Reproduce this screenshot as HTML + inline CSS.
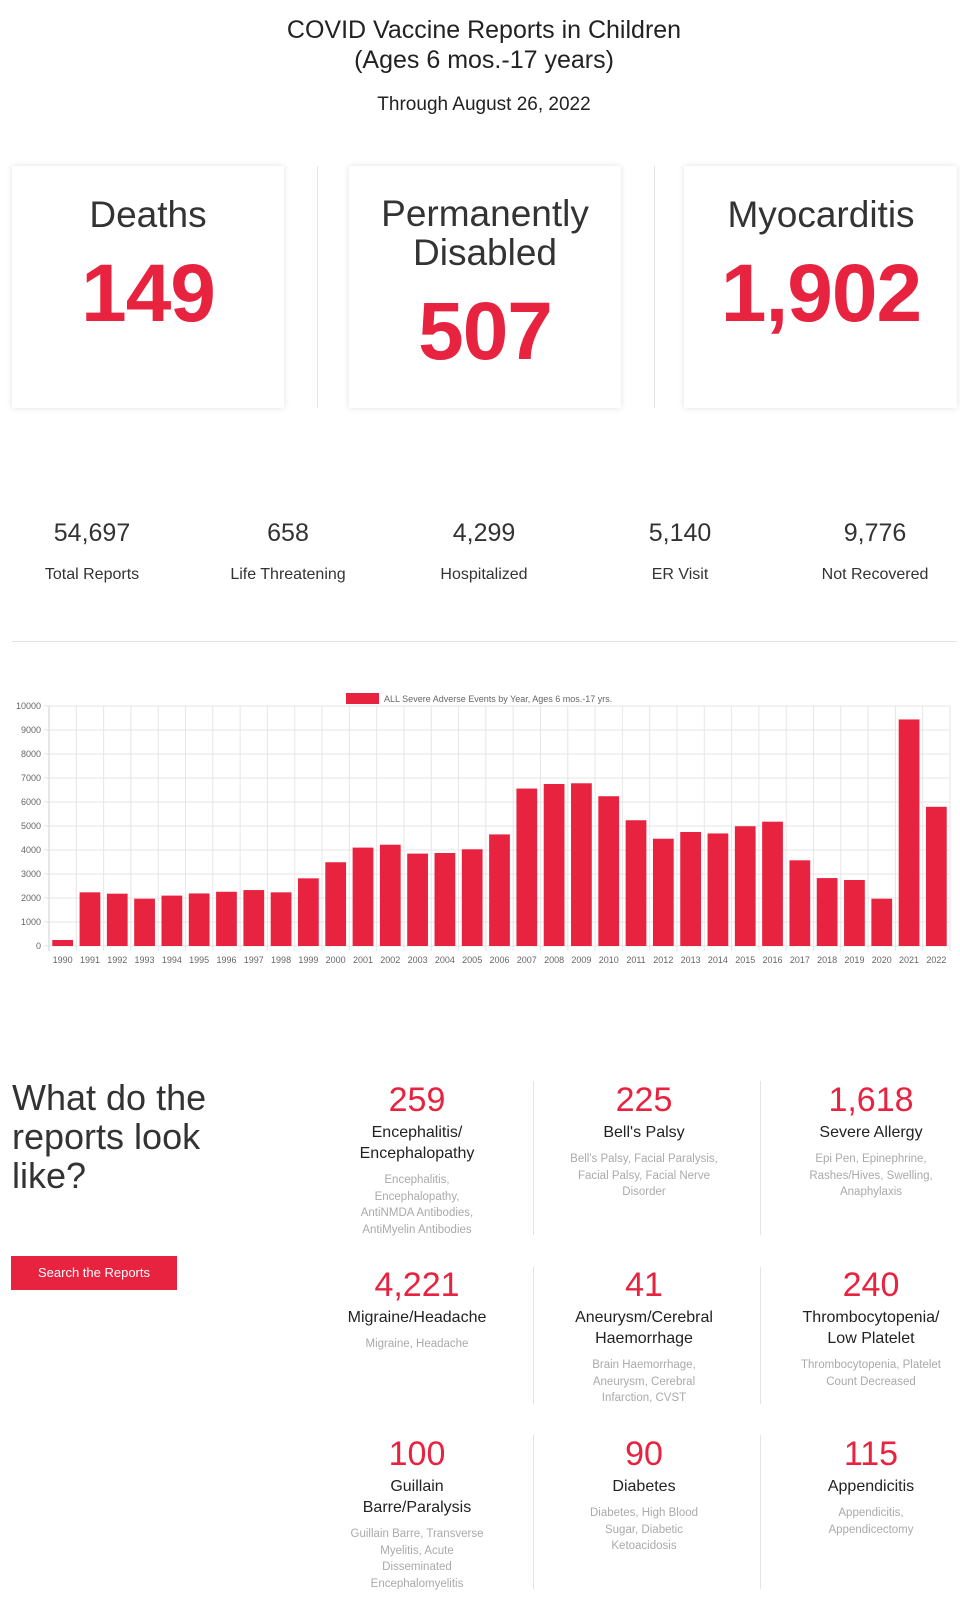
<!DOCTYPE html>
<html><head><meta charset="utf-8">
<style>
body{margin:0;width:960px;height:1600px;background:#fff;font-family:"Liberation Sans",sans-serif;color:#222;position:relative;overflow:hidden}
.a{position:absolute}
.c{text-align:center;transform:translateX(-50%);white-space:nowrap}
.red{color:#e8233f}
.card{position:absolute;background:#fff;box-shadow:0 0 6px rgba(0,0,0,0.12);top:166px;height:242px}
.vsep{position:absolute;width:1px;background:#e4e4e4}
.big{font-weight:bold;font-size:82px;letter-spacing:-1px}
.h2{font-size:37px;color:#333}
.sn{font-size:25px;color:#333}
.sl{font-size:16px;color:#333}
.gn{font-size:34px;color:#e8233f}
.gt{font-size:16px;color:#222;line-height:21px}
.gd{font-size:11.5px;color:#aaa;line-height:16.5px}
</style></head><body>
<div class="a c" style="left:484px;top:15px;font-size:25px;line-height:30px">COVID Vaccine Reports in Children<br>(Ages 6 mos.-17 years)</div>
<div class="a c" style="left:484px;top:94px;font-size:19px">Through August 26, 2022</div>

<div class="card" style="left:12px;width:272px"></div>
<div class="card" style="left:349px;width:272px"></div>
<div class="card" style="left:684px;width:273px"></div>
<div class="vsep" style="left:317px;top:166px;height:242px"></div>
<div class="vsep" style="left:654px;top:166px;height:242px"></div>
<div class="a c h2" style="left:148px;top:194px">Deaths</div>
<div class="a c big red" style="left:148px;top:247px">149</div>
<div class="a c h2" style="left:485px;top:194px;line-height:39px">Permanently<br>Disabled</div>
<div class="a c big red" style="left:485px;top:285px">507</div>
<div class="a c h2" style="left:821px;top:194px">Myocarditis</div>
<div class="a c big red" style="left:821px;top:247px">1,902</div>

<div class="a c sn" style="left:92px;top:519px">54,697</div>
<div class="a c sl" style="left:92px;top:566px">Total Reports</div>
<div class="a c sn" style="left:288px;top:519px">658</div>
<div class="a c sl" style="left:288px;top:566px">Life Threatening</div>
<div class="a c sn" style="left:484px;top:519px">4,299</div>
<div class="a c sl" style="left:484px;top:566px">Hospitalized</div>
<div class="a c sn" style="left:680px;top:519px">5,140</div>
<div class="a c sl" style="left:680px;top:566px">ER Visit</div>
<div class="a c sn" style="left:875px;top:519px">9,776</div>
<div class="a c sl" style="left:875px;top:566px">Not Recovered</div>
<div class="a" style="left:12px;top:641px;width:945px;height:1px;background:#e4e4e4"></div>

<svg class="a" id="chart" style="left:0;top:680px" width="960" height="300"></svg>

<div class="a" style="left:12px;top:1078px;font-size:36px;line-height:39px;color:#333">What do the<br>reports look<br>like?</div>
<div class="a" style="left:11px;top:1256px;width:166px;height:34px;background:#e8233f;color:#fff;font-size:13px;line-height:34px;text-align:center">Search the Reports</div>

<div class="vsep" style="left:533px;top:1081px;height:154px"></div>
<div class="vsep" style="left:760px;top:1081px;height:154px"></div>
<div class="vsep" style="left:533px;top:1267px;height:137px"></div>
<div class="vsep" style="left:760px;top:1267px;height:137px"></div>
<div class="vsep" style="left:533px;top:1435px;height:154px"></div>
<div class="vsep" style="left:760px;top:1435px;height:154px"></div>

<div id="grid"></div>

<script>
const years=["1990","1991","1992","1993","1994","1995","1996","1997","1998","1999","2000","2001","2002","2003","2004","2005","2006","2007","2008","2009","2010","2011","2012","2013","2014","2015","2016","2017","2018","2019","2020","2021","2022"];
const events=[250,2236,2180,1970,2100,2190,2260,2330,2236,2820,3490,4100,4220,3850,3875,4030,4650,6560,6750,6780,6240,5240,4470,4750,4690,4990,5180,3570,2830,2750,1970,9440,5800];
const yTicks=[0,1000,2000,3000,4000,5000,6000,7000,8000,9000,10000];
const legendLabel="ALL Severe Adverse Events by Year, Ages 6 mos.-17 yrs.";
const NS="http://www.w3.org/2000/svg";
const svg=document.getElementById('chart');
const L=49,R=950,T=26,B=266,yMax=10000;
const bw=(R-L)/years.length;
const y=v=>B-(v/yMax)*(B-T);
const x=i=>L+i*bw;
function mk(t,a){const e=document.createElementNS(NS,t);for(const k in a)e.setAttribute(k,a[k]);svg.appendChild(e);return e;}
yTicks.forEach(v=>{
  const g=mk('line',{x1:L-5,x2:R,y1:y(v),y2:y(v),stroke:'#e6e6e6'});
  
  
  const t=mk('text',{x:L-8,y:y(v)+3,'text-anchor':'end','font-size':9,fill:'#666','font-family':'Liberation Sans'});
  t.textContent=v;
  
  
});
for(let i=0;i<=years.length;i++){
  const g=mk('line',{x1:x(i),x2:x(i),y1:T,y2:B+5,stroke:i==0?'#cfcfcf':'#e6e6e6'});
  
  
}
years.forEach((yr,i)=>{
  const r=mk('rect',{x:x(i)+bw*0.12,y:y(events[i]),width:bw*0.76,height:B-y(events[i]),fill:'#e8233f'});
  
  
  const t=mk('text',{x:x(i)+bw/2,y:B+17,'text-anchor':'middle','font-size':9,fill:'#666','font-family':'Liberation Sans'});
  t.textContent=yr;
  
  
});
const lb=mk('rect',{x:346,y:13,width:33,height:11,fill:'#e8233f'});


const lt=mk('text',{x:384,y:22,'font-size':9,fill:'#666','font-family':'Liberation Sans'});
lt.textContent=legendLabel;



const items=[
 [417,1081,"259","Encephalitis/<br>Encephalopathy","Encephalitis,<br>Encephalopathy,<br>AntiNMDA Antibodies,<br>AntiMyelin Antibodies"],
 [644,1081,"225","Bell's Palsy","Bell's Palsy, Facial Paralysis,<br>Facial Palsy, Facial Nerve<br>Disorder"],
 [871,1081,"1,618","Severe Allergy","Epi Pen, Epinephrine,<br>Rashes/Hives, Swelling,<br>Anaphylaxis"],
 [417,1266,"4,221","Migraine/Headache","Migraine, Headache"],
 [644,1266,"41","Aneurysm/Cerebral<br>Haemorrhage","Brain Haemorrhage,<br>Aneurysm, Cerebral<br>Infarction, CVST"],
 [871,1266,"240","Thrombocytopenia/<br>Low Platelet","Thrombocytopenia, Platelet<br>Count Decreased"],
 [417,1435,"100","Guillain<br>Barre/Paralysis","Guillain Barre, Transverse<br>Myelitis, Acute<br>Disseminated<br>Encephalomyelitis"],
 [644,1435,"90","Diabetes","Diabetes, High Blood<br>Sugar, Diabetic<br>Ketoacidosis"],
 [871,1435,"115","Appendicitis","Appendicitis,<br>Appendicectomy"]
];
const grid=document.getElementById('grid');
items.forEach(it=>{
  const d=document.createElement('div');
  d.className='a c';
  d.style.left=it[0]+'px';d.style.top=it[1]+'px';
  
  
  d.innerHTML='<div class="gn">'+it[2]+'</div><div class="gt" style="margin-top:2px">'+it[3]+'</div><div class="gd" style="margin-top:8px">'+it[4]+'</div>';
  grid.appendChild(d);
});
</script>
</body></html>
